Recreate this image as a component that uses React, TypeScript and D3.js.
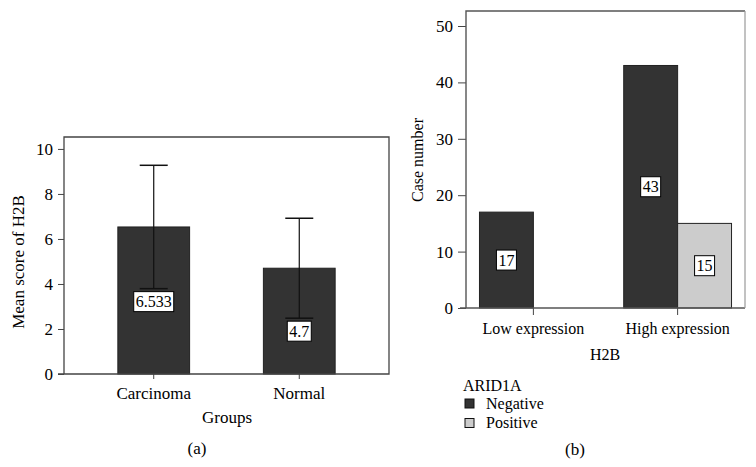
import React, { useRef, useEffect } from 'react';
import * as d3 from 'd3';

// panel (a): mean H2B score by group
const groups = ['Carcinoma', 'Normal'];
const meanScores = [6.533, 4.7];
const errorSd = [2.74, 2.22];
const meanLabels = ['6.533', '4.7'];
const yTicksA = [0, 2, 4, 6, 8, 10];

// panel (b): case counts by H2B expression and ARID1A status
const expression = ['Low expression', 'High expression'];
const arid = ['Negative', 'Positive'];
const negativeCounts = [17, 43];
const positiveCounts = [0, 15];
const yTicksB = [0, 10, 20, 30, 40, 50];

const FONT = '"Liberation Serif", "Times New Roman", serif';
const DARK = '#333333';
const LIGHT = '#cccccc';

const App = () => {
  const ref = useRef(null);

  useEffect(() => {
    const svg = d3.select(ref.current);
    svg.selectAll('*').remove();
    svg.style('font-family', FONT);

    const labelBox = (g, x, cy, text) => {
      const t = g.append('text')
        .attr('x', x).attr('y', cy).attr('dy', '0.34em')
        .attr('text-anchor', 'middle').attr('font-size', 16).attr('fill', '#000')
        .text(text);
      const w = t.node().getComputedTextLength() + 4;
      g.insert('rect', () => t.node())
        .attr('x', x - w / 2).attr('y', cy - 10).attr('width', w).attr('height', 20)
        .attr('fill', '#fff').attr('stroke', '#000').attr('stroke-width', 1);
    };

    // ---- panel (a)
    const a = { left: 64, right: 389, top: 137, bottom: 374 };
    const xA = d3.scaleBand().domain(groups).range([a.left, a.right])
      .paddingInner(0.507).paddingOuter(0.37);
    const yA = d3.scaleLinear().domain([0, 10.53]).range([a.bottom, a.top]);
    const gA = svg.append('g');

    gA.append('g').attr('transform', `translate(${a.left},0)`)
      .call(d3.axisLeft(yA).tickValues(yTicksA).tickSize(6).tickPadding(5))
      .call((g) => g.select('.domain').remove())
      .call((g) => g.selectAll('text').attr('font-size', 17).attr('font-family', FONT).attr('fill', '#000'))
      .call((g) => g.selectAll('line').attr('stroke', '#444'));
    gA.append('g').attr('transform', `translate(0,${a.bottom})`)
      .call(d3.axisBottom(xA).tickSize(5).tickPadding(8))
      .call((g) => g.select('.domain').remove())
      .call((g) => g.selectAll('text').attr('font-size', 17).attr('font-family', FONT).attr('fill', '#000'))
      .call((g) => g.selectAll('line').attr('stroke', '#444'));

    gA.selectAll('rect.bar').data(groups).enter().append('rect')
      .attr('class', 'bar')
      .attr('x', (d) => xA(d))
      .attr('y', (d, i) => yA(meanScores[i]))
      .attr('width', xA.bandwidth())
      .attr('height', (d, i) => yA(0) - yA(meanScores[i]))
      .attr('fill', DARK).attr('stroke', '#222').attr('stroke-width', 1);

    groups.forEach((d, i) => {
      const cx = xA(d) + xA.bandwidth() / 2;
      const hi = yA(meanScores[i] + errorSd[i]);
      const lo = yA(meanScores[i] - errorSd[i]);
      gA.append('line').attr('x1', cx).attr('x2', cx).attr('y1', hi).attr('y2', lo)
        .attr('stroke', '#111').attr('stroke-width', 1.2);
      [hi, lo].forEach((yy) => {
        gA.append('line').attr('x1', cx - 14).attr('x2', cx + 14).attr('y1', yy).attr('y2', yy)
          .attr('stroke', '#111').attr('stroke-width', 1.5);
      });
      labelBox(gA, cx, lo + 13, meanLabels[i]);
    });

    gA.append('path')
      .attr('d', `M${a.left - 6},${a.bottom}H${a.right}V${a.top}H${a.left}V${a.bottom}`)
      .attr('fill', 'none').attr('stroke', '#444').attr('stroke-width', 1.3);

    gA.append('text').attr('transform', `translate(18,262) rotate(-90)`)
      .attr('dy', '0.34em').attr('text-anchor', 'middle').attr('font-size', 17)
      .text('Mean score of H2B');
    gA.append('text').attr('x', 227).attr('y', 423).attr('text-anchor', 'middle')
      .attr('font-size', 17).text('Groups');
    gA.append('text').attr('x', 197).attr('y', 454).attr('text-anchor', 'middle')
      .attr('font-size', 17).text('(a)');

    // ---- panel (b)
    const b = { left: 466, right: 745, top: 11, bottom: 308 };
    const xB = d3.scaleBand().domain(expression).range([b.left, b.right])
      .paddingInner(0.2526).paddingOuter(0.0934);
    const xSub = d3.scaleBand().domain(arid).range([0, xB.bandwidth()]);
    const yB = d3.scaleLinear().domain([0, 52.66]).range([b.bottom, b.top]);
    const gB = svg.append('g');

    gB.append('g').attr('transform', `translate(${b.left},0)`)
      .call(d3.axisLeft(yB).tickValues(yTicksB).tickSize(8).tickPadding(5))
      .call((g) => g.select('.domain').remove())
      .call((g) => g.selectAll('text').attr('font-size', 17).attr('font-family', FONT).attr('fill', '#000'))
      .call((g) => g.selectAll('line').attr('stroke', '#444'));
    gB.append('g').attr('transform', `translate(0,${b.bottom})`)
      .call(d3.axisBottom(xB).tickSize(7).tickPadding(8))
      .call((g) => g.select('.domain').remove())
      .call((g) => g.selectAll('.tick line').attr('transform', `translate(${-xB.bandwidth() / 2 + xSub.bandwidth()},0)`))
      .call((g) => g.selectAll('.tick text').attr('transform', `translate(${-xB.bandwidth() / 2 + xSub.bandwidth()},0)`))
      .call((g) => g.selectAll('text').attr('font-size', 16).attr('font-family', FONT).attr('fill', '#000'))
      .call((g) => g.selectAll('line').attr('stroke', '#444'));

    const series = [
      { key: 'Negative', values: negativeCounts, fill: DARK },
      { key: 'Positive', values: positiveCounts, fill: LIGHT },
    ];
    series.forEach((s) => {
      expression.forEach((c, i) => {
        const v = s.values[i];
        if (!v) return;
        const x0 = xB(c) + xSub(s.key);
        gB.append('rect')
          .attr('x', x0).attr('y', yB(v))
          .attr('width', xSub.bandwidth()).attr('height', yB(0) - yB(v))
          .attr('fill', s.fill).attr('stroke', '#222').attr('stroke-width', 1);
      });
    });
    series.forEach((s) => {
      expression.forEach((c, i) => {
        const v = s.values[i];
        if (!v) return;
        const cx = xB(c) + xSub(s.key) + xSub.bandwidth() / 2;
        labelBox(gB, cx, (yB(v) + yB(0)) / 2, String(v));
      });
    });

    gB.append('path')
      .attr('d', `M${b.left - 6},${b.bottom}H${b.right}M${b.left},${b.bottom}V${b.top}H${b.right}`)
      .attr('fill', 'none').attr('stroke', '#555').attr('stroke-width', 1.4);
    gB.append('line').attr('x1', b.right).attr('x2', b.right).attr('y1', b.top).attr('y2', b.bottom)
      .attr('stroke', '#999').attr('stroke-width', 1.2);

    gB.append('text').attr('transform', `translate(418,160) rotate(-90)`)
      .attr('dy', '0.34em').attr('text-anchor', 'middle').attr('font-size', 16)
      .text('Case number');
    gB.append('text').attr('x', 605).attr('y', 360).attr('text-anchor', 'middle')
      .attr('font-size', 16).text('H2B');

    // legend
    const lg = gB.append('g').attr('transform', 'translate(463,0)');
    lg.append('text').attr('x', 0).attr('y', 391).attr('font-size', 16).text('ARID1A');
    series.forEach((s, i) => {
      const yy = 399 + i * 19.5;
      lg.append('rect').attr('x', 2).attr('y', yy).attr('width', 9).attr('height', 9)
        .attr('fill', s.fill).attr('stroke', '#111').attr('stroke-width', 1);
      lg.append('text').attr('x', 23).attr('y', yy + 4.5).attr('dy', '0.34em')
        .attr('font-size', 16).text(s.key);
    });

    gB.append('text').attr('x', 575).attr('y', 455).attr('text-anchor', 'middle')
      .attr('font-size', 17).text('(b)');
  }, []);

  return (
    <svg ref={ref} width="756" height="467"
      style={{ position: 'absolute', left: 0, top: 0, background: '#fff' }}></svg>
  );
};

export default App;
